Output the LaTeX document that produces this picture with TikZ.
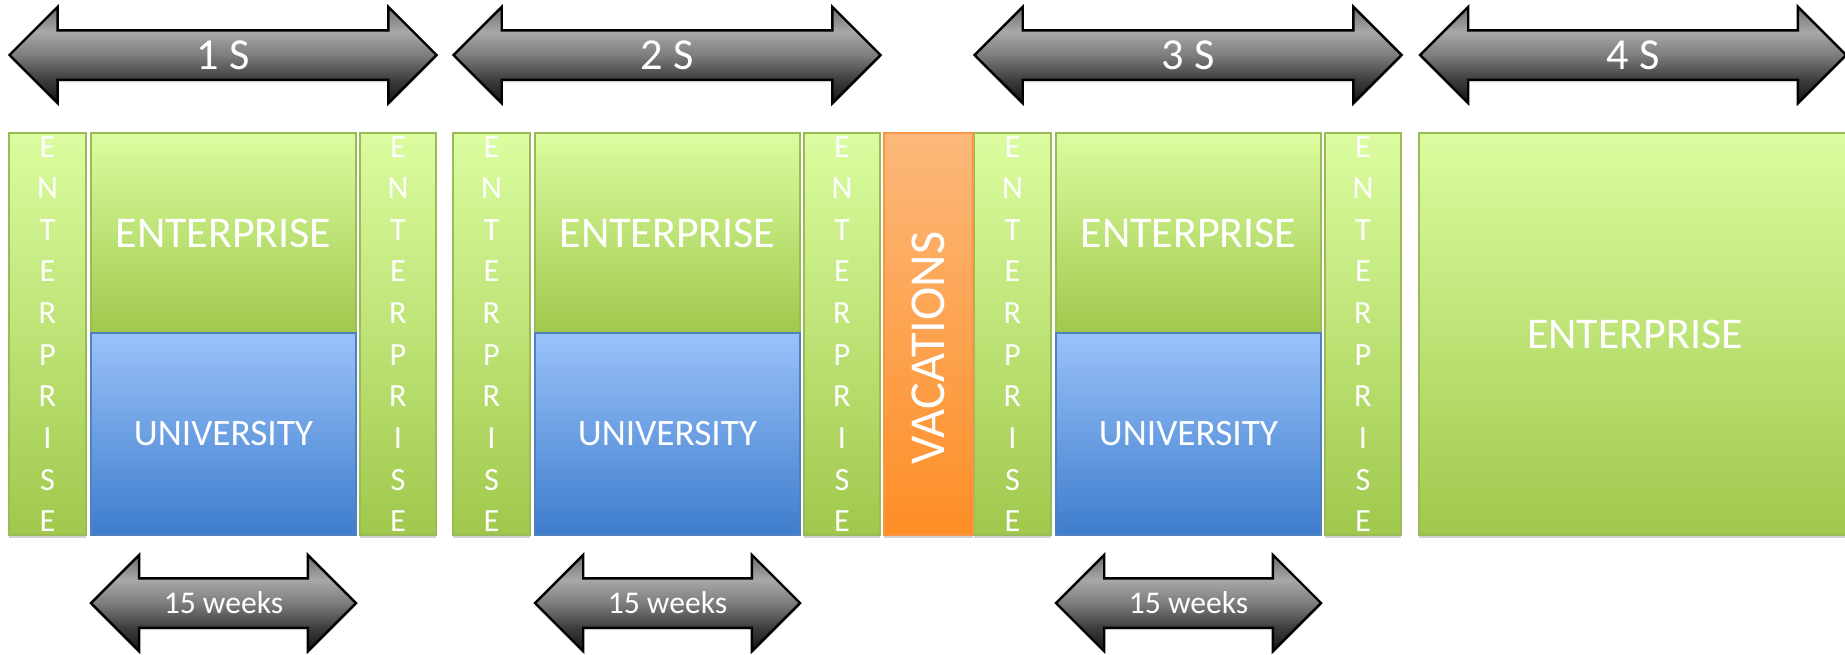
\documentclass[tikz,border=0pt]{standalone}
\usepackage{fontspec}
\setmainfont{Carlito}
\usepackage{tikz}
\usetikzlibrary{shapes.arrows,shadings,shadows}

\definecolor{entTop}{RGB}{219,253,160}
\definecolor{entBot}{RGB}{160,200,76}
\definecolor{entLine}{RGB}{155,187,89}
\definecolor{uniTop}{RGB}{153,194,250}
\definecolor{uniBot}{RGB}{62,125,204}
\definecolor{uniLine}{RGB}{79,129,189}
\definecolor{vacTop}{RGB}{252,184,122}
\definecolor{vacBot}{RGB}{254,142,38}
\definecolor{vacLine}{RGB}{247,150,70}
\definecolor{arrA}{RGB}{20,20,20}
\definecolor{arrB}{RGB}{60,60,60}
\definecolor{arrC}{RGB}{125,125,125}
\definecolor{arrD}{RGB}{168,168,168}
\definecolor{arrE}{RGB}{110,110,110}
\pgfdeclareverticalshading{arrowgray}{100bp}{color(0bp)=(arrA); color(25bp)=(arrA); color(37bp)=(arrB); color(50bp)=(arrC); color(62bp)=(arrD); color(75bp)=(arrE); color(100bp)=(arrE)}

\newcommand{\semfont}{\fontsize{12.6}{15}\selectfont}
\newcommand{\boxfont}{\fontsize{12.5}{15}\selectfont}
\newcommand{\unifont}{\fontsize{10.6}{13}\selectfont}
\newcommand{\colfont}{\fontsize{9.2}{11.84}\selectfont}
\newcommand{\vacfont}{\fontsize{14.3}{17}\selectfont}
\newcommand{\weekfont}{\fontsize{9}{11}\selectfont}
\newcommand{\entcol}{E\\N\\T\\E\\R\\P\\R\\I\\S\\E}

\tikzset{
  softshadow/.style={drop shadow={shadow xshift=0pt, shadow yshift=-0.025cm, opacity=0.18, fill=black}},
  entbox/.style={softshadow, draw=entLine, line width=0.6pt, top color=entTop, bottom color=entBot, text=white, inner sep=0pt},
  unibox/.style={draw=uniLine, line width=0.6pt, top color=uniTop, bottom color=uniBot, text=white, inner sep=0pt},
  vacbox/.style={softshadow, draw=vacLine, line width=0.6pt, top color=vacTop, bottom color=vacBot, inner sep=0pt},
  semarrow/.style={softshadow, double arrow, double arrow tip angle=90, double arrow head extend=0.235cm, draw=black, line width=0.7pt, shade, shading=arrowgray, text=white, inner sep=0pt, minimum height=4.27cm, text height=10.9pt, text depth=2.47pt, font=\semfont},
  weekarrow/.style={semarrow, minimum height=2.65cm, text height=9.6pt, text depth=3.77pt, font=\weekfont}
}

\begin{document}
\begin{tikzpicture}
  \useasboundingbox (0,0) rectangle (18.45,6.54);
  % three semesters with enterprise / university split
  \foreach \x/\n in {0.09/1,4.53/2,9.74/3}{
    \node[entbox, minimum width=0.77cm, minimum height=4.02cm, align=center, font=\colfont] (left\n) at (\x+0.385,3.20) {\entcol};
    \node[entbox, minimum width=2.65cm, minimum height=2.00cm, font=\boxfont] (ent\n) at (\x+2.145,4.21) {ENTERPRISE};
    \node[unibox, minimum width=2.65cm, minimum height=2.02cm, font=\unifont] (uni\n) at (\x+2.145,2.20) {UNIVERSITY};
    \node[entbox, minimum width=0.76cm, minimum height=4.02cm, align=center, font=\colfont] (right\n) at (\x+3.89,3.20) {\entcol};
    \node[semarrow] (sem\n) at (\x+2.14,5.99) {\n\ S};
    \node[weekarrow] (week\n) at (\x+2.145,0.51) {15 weeks};
  }
  % vacations
  \node[vacbox, minimum width=0.89cm, minimum height=4.02cm] (vac) at (9.285,3.20) {};
  \node[text=white, font=\vacfont, inner sep=0pt, rotate=90] (vactext) at ([yshift=-0.14cm]vac.center) {VACATIONS};
  % last semester
  \node[entbox, minimum width=4.32cm, minimum height=4.02cm, font=\boxfont] (ent4) at (16.35,3.20) {ENTERPRISE};
  \node[semarrow, minimum height=4.26cm] (sem4) at (16.33,5.99) {4\ S};
\end{tikzpicture}
\end{document}
